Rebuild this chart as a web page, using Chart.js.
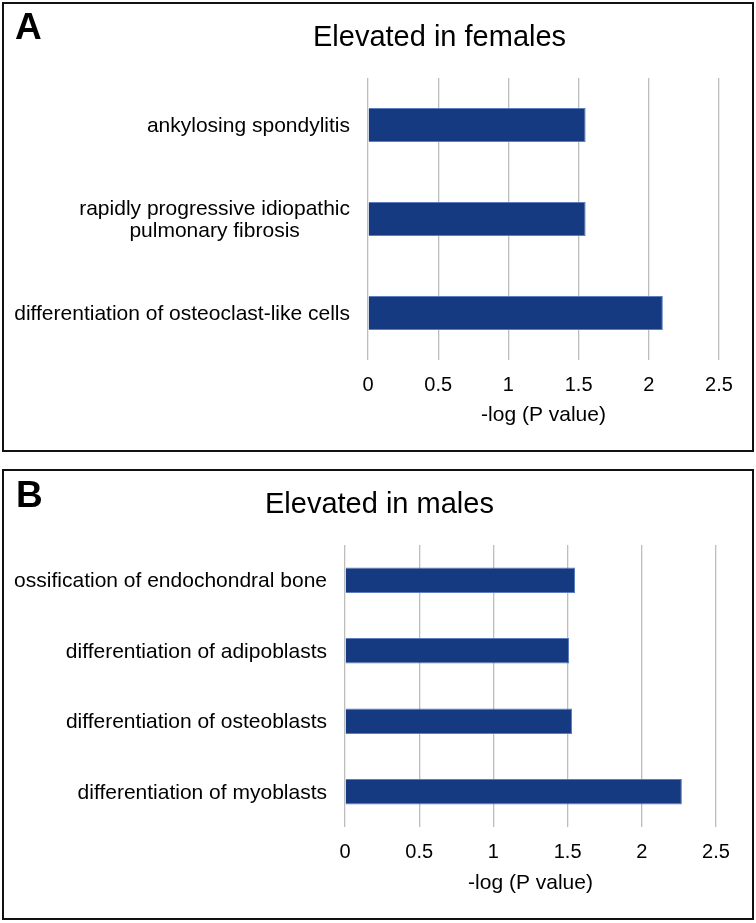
<!DOCTYPE html>
<html>
<head>
<meta charset="utf-8">
<script src="https://cdn.jsdelivr.net/npm/chart.js@4"></script>
<style>
  body { margin: 0; background: #fff; }
  #pagina { position: relative; width: 756px; height: 923px; overflow: hidden; }
  .painel { position: absolute; box-sizing: border-box; border: 2px solid #111; }
  .grafico { position: absolute; left: 0; width: 756px; }
</style>
</head>
<body>
<div id="pagina">
  <div class="painel" style="left:2px; top:2px; width:752px; height:450px;"></div>
  <div class="painel" style="left:2px; top:469px; width:752px; height:451px;"></div>
  <div class="grafico" style="top:0; height:460px;"><canvas id="graficoFemeas"></canvas></div>
  <div class="grafico" style="top:460px; height:463px;"><canvas id="graficoMachos"></canvas></div>
</div>
<script>
// ================= DADOS =================
const categoriasFemeas = [
  'ankylosing spondylitis',
  ['rapidly progressive idiopathic', 'pulmonary fibrosis'],
  'differentiation of osteoclast-like cells'
];
const valoresFemeas = [1.55, 1.55, 2.10];

const categoriasMachos = [
  'ossification of endochondral bone',
  'differentiation of adipoblasts',
  'differentiation of osteoblasts',
  'differentiation of myoblasts'
];
const valoresMachos = [1.55, 1.51, 1.53, 2.27];

const ticksX = [0, 0.5, 1, 1.5, 2, 2.5];

const FONTE = '"Liberation Sans", Arial, Helvetica, sans-serif';
const AZUL = '#153a82';

// ================= PLUGIN: rótulos do eixo y + títulos =================
const textosPlugin = {
  id: 'textos',
  afterDraw(chart, args, opts) {
    const ctx = chart.ctx;
    const y = chart.scales.y;
    ctx.save();
    ctx.fillStyle = '#000';

    // rótulos das categorias (linhas centradas entre si, bloco alinhado à direita)
    ctx.font = '21px ' + FONTE;
    ctx.textAlign = 'center';
    ctx.textBaseline = 'middle';
    chart.data.labels.forEach((lab, i) => {
      const linhas = Array.isArray(lab) ? lab : [lab];
      const larg = Math.max(...linhas.map(l => ctx.measureText(l).width));
      const cx = chart.chartArea.left - opts.gap - larg / 2;
      const cy = y.getPixelForValue(i) + 1;
      linhas.forEach((l, j) => {
        ctx.fillText(l, cx, cy + (j - (linhas.length - 1) / 2) * 22);
      });
    });

    // letra do painel
    ctx.textAlign = 'left';
    ctx.textBaseline = 'alphabetic';
    ctx.font = 'bold 37px ' + FONTE;
    ctx.fillText(opts.letra, opts.letraX, opts.letraY);

    // título
    ctx.font = '29px ' + FONTE;
    ctx.fillText(opts.titulo, opts.tituloX, opts.tituloY);
    ctx.restore();
  }
};

// ================= CRIAR GRÁFICO =================
function criarGrafico(id, categorias, valores, cfg) {
  return new Chart(document.getElementById(id), {
    type: 'bar',
    data: {
      labels: categorias,
      datasets: [{
        data: valores,
        backgroundColor: AZUL,
        borderColor: '#5b7dbd',
        borderWidth: 1,
        barPercentage: 0.36,
        categoryPercentage: 1
      }]
    },
    options: {
      indexAxis: 'y',
      responsive: true,
      maintainAspectRatio: false,
      devicePixelRatio: 1,
      animation: false,
      layout: { padding: { top: cfg.topo, right: cfg.direita, left: 0, bottom: cfg.baixo } },
      plugins: {
        legend: { display: false },
        tooltip: { enabled: false },
        textos: cfg.textos
      },
      scales: {
        y: {
          grid: { display: false },
          border: { display: false },
          ticks: { display: false },
          afterFit: s => { s.width = cfg.esquerda; }
        },
        x: {
          min: ticksX[0],
          max: ticksX[ticksX.length - 1],
          afterBuildTicks: s => { s.ticks = ticksX.map(v => ({ value: v })); },
          grid: { color: '#bdbdbd', lineWidth: 1.3, drawTicks: false },
          border: { display: false },
          ticks: {
            color: '#000',
            font: { family: FONTE, size: 20 },
            padding: 13,
            callback: v => String(v)
          },
          title: {
            display: true,
            text: '-log (P value)',
            color: '#000',
            font: { family: FONTE, size: 21 },
            padding: 0
          },
          afterFit: s => { s.height = cfg.alturaX; }
        }
      }
    },
    plugins: [textosPlugin]
  });
}

criarGrafico('graficoFemeas', categoriasFemeas, valoresFemeas, {
  topo: 78, direita: 37, baixo: 32, esquerda: 368, alturaX: 68,
  textos: { gap: 18, letra: 'A', letraX: 15, letraY: 39, titulo: 'Elevated in females', tituloX: 313, tituloY: 46 }
});

criarGrafico('graficoMachos', categoriasMachos, valoresMachos, {
  topo: 85, direita: 40, baixo: 27, esquerda: 345, alturaX: 69,
  textos: { gap: 18, letra: 'B', letraX: 16, letraY: 47, titulo: 'Elevated in males', tituloX: 265, tituloY: 53 }
});
</script>
</body>
</html>
